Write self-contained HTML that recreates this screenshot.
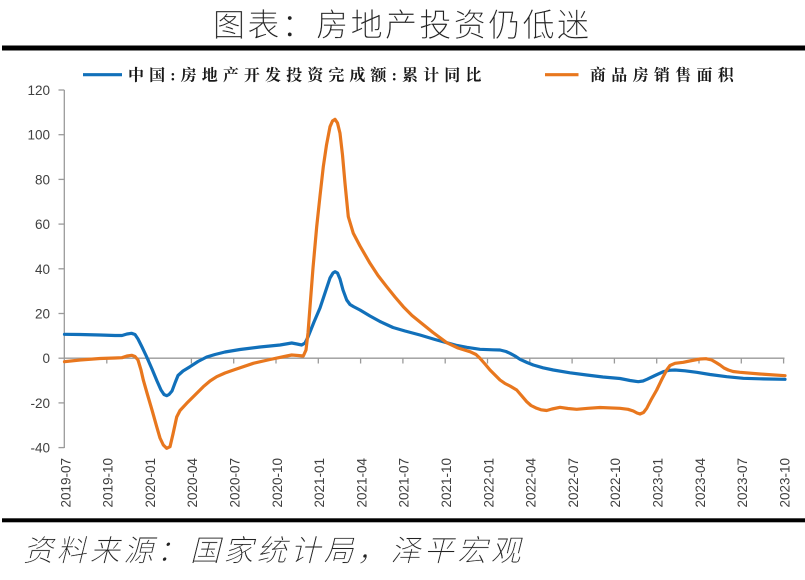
<!DOCTYPE html>
<html>
<head>
<meta charset="utf-8">
<style>
  html,body{margin:0;padding:0;background:#fff;}
  body{width:805px;height:580px;overflow:hidden;}
  svg{display:block;}
  .ax{font-family:"Liberation Sans","Noto Sans CJK SC",sans-serif;font-size:13.5px;fill:#404040;}
  .lg{font-family:"Liberation Serif","Noto Serif CJK SC",serif;font-size:16px;font-weight:bold;fill:#1a1a1a;letter-spacing:5.1px;}
</style>
</head>
<body>
<svg width="805" height="580" viewBox="0 0 805 580" xmlns="http://www.w3.org/2000/svg">
  <rect width="805" height="580" fill="#fff"/>
  <!-- title -->
  <text x="213" y="36" font-family="'Liberation Sans','Noto Sans CJK SC',sans-serif" font-size="32" font-weight="300" fill="#222" stroke="#fff" stroke-width="0.3" letter-spacing="2.4">图表：房地产投资仍低迷</text>
  <rect x="2" y="45.5" width="803" height="5" fill="#000"/>

  <!-- legend -->
  <line x1="83" y1="74.7" x2="122" y2="74.7" stroke="#1170BA" stroke-width="3.2"/>
  <text class="lg" x="128" y="80.5">中国:房地产开发投资完成额:累计同比</text>
  <line x1="545" y1="74.7" x2="578.5" y2="74.7" stroke="#E8771E" stroke-width="3.2"/>
  <text class="lg" x="590" y="80.5" style="letter-spacing:5.3px">商品房销售面积</text>

  <!-- y axis -->
  <g stroke="#9a9a9a" stroke-width="1.3" fill="none">
    <line x1="64.3" y1="90" x2="64.3" y2="448"/>
    <line x1="58.5" y1="90" x2="64.3" y2="90"/>
    <line x1="58.5" y1="134.7" x2="64.3" y2="134.7"/>
    <line x1="58.5" y1="179.4" x2="64.3" y2="179.4"/>
    <line x1="58.5" y1="224.1" x2="64.3" y2="224.1"/>
    <line x1="58.5" y1="268.8" x2="64.3" y2="268.8"/>
    <line x1="58.5" y1="313.5" x2="64.3" y2="313.5"/>
    <line x1="58.5" y1="358.2" x2="64.3" y2="358.2"/>
    <line x1="58.5" y1="402.9" x2="64.3" y2="402.9"/>
    <line x1="58.5" y1="447.6" x2="64.3" y2="447.6"/>
    <!-- x axis at 0 -->
    <line x1="64.3" y1="358.2" x2="784.5" y2="358.2"/>
    <line x1="106.8" y1="358.2" x2="106.8" y2="363.5"/>
    <line x1="149.1" y1="358.2" x2="149.1" y2="363.5"/>
    <line x1="191.4" y1="358.2" x2="191.4" y2="363.5"/>
    <line x1="233.7" y1="358.2" x2="233.7" y2="363.5"/>
    <line x1="276.0" y1="358.2" x2="276.0" y2="363.5"/>
    <line x1="318.3" y1="358.2" x2="318.3" y2="363.5"/>
    <line x1="360.6" y1="358.2" x2="360.6" y2="363.5"/>
    <line x1="402.9" y1="358.2" x2="402.9" y2="363.5"/>
    <line x1="445.2" y1="358.2" x2="445.2" y2="363.5"/>
    <line x1="487.5" y1="358.2" x2="487.5" y2="363.5"/>
    <line x1="529.8" y1="358.2" x2="529.8" y2="363.5"/>
    <line x1="572.1" y1="358.2" x2="572.1" y2="363.5"/>
    <line x1="614.4" y1="358.2" x2="614.4" y2="363.5"/>
    <line x1="656.7" y1="358.2" x2="656.7" y2="363.5"/>
    <line x1="699.0" y1="358.2" x2="699.0" y2="363.5"/>
    <line x1="741.3" y1="358.2" x2="741.3" y2="363.5"/>
    <line x1="783.6" y1="358.2" x2="783.6" y2="363.5"/>
  </g>
  <g class="ax" text-anchor="end">
    <text x="50" y="95">120</text>
    <text x="50" y="139.7">100</text>
    <text x="50" y="184.4">80</text>
    <text x="50" y="229.1">60</text>
    <text x="50" y="273.8">40</text>
    <text x="50" y="318.5">20</text>
    <text x="50" y="363.2">0</text>
    <text x="50" y="407.9">-20</text>
    <text x="50" y="452.6">-40</text>
  </g>
  <g class="ax" text-anchor="end">
    <text transform="translate(70.3,458) rotate(-90)">2019-07</text>
    <text transform="translate(112.6,458) rotate(-90)">2019-10</text>
    <text transform="translate(154.9,458) rotate(-90)">2020-01</text>
    <text transform="translate(197.2,458) rotate(-90)">2020-04</text>
    <text transform="translate(239.5,458) rotate(-90)">2020-07</text>
    <text transform="translate(281.8,458) rotate(-90)">2020-10</text>
    <text transform="translate(324.1,458) rotate(-90)">2021-01</text>
    <text transform="translate(366.4,458) rotate(-90)">2021-04</text>
    <text transform="translate(408.7,458) rotate(-90)">2021-07</text>
    <text transform="translate(451.0,458) rotate(-90)">2021-10</text>
    <text transform="translate(493.3,458) rotate(-90)">2022-01</text>
    <text transform="translate(535.6,458) rotate(-90)">2022-04</text>
    <text transform="translate(577.9,458) rotate(-90)">2022-07</text>
    <text transform="translate(620.2,458) rotate(-90)">2022-10</text>
    <text transform="translate(662.5,458) rotate(-90)">2023-01</text>
    <text transform="translate(704.8,458) rotate(-90)">2023-04</text>
    <text transform="translate(747.1,458) rotate(-90)">2023-07</text>
    <text transform="translate(789.4,458) rotate(-90)">2023-10</text>
  </g>

  <!-- blue series -->
  <polyline fill="none" stroke="#1170BA" stroke-width="3.2" stroke-linejoin="round" stroke-linecap="round"
    points="64.5,334.3 80,334.5 100,335 115,335.5 122,335.5 127,334 131.5,333.3 135,334.5 138,339 142,347 146.5,356.5 152,369 157,381 161,390 164,394.5 166.7,395.7 169,394.5 172,391 175,383 178,375.5 183,371 190,366.7 198,361.5 206.7,357 215,354.5 225,352 240,349.5 260,347 280,345 291.7,343 297,344 301.7,345 305,343 308,337 314,322 320,308 326,290 330,278 333,273 335,271.7 337.5,273 340,279 343,290 346.7,300 350,304.5 353.3,306.5 360,310 370,316 380,321.5 393,327.5 405,331 420,335 435,339.5 446.7,342.7 457,345.5 466.7,347.3 480,349.3 493,349.8 500,350 506,351.5 510,353.3 515,356 520,359.3 527,362.5 533.3,365 543,367.8 553.3,370 570,372.8 586.7,375 603,377 620,378.5 630,380.5 638.3,381.7 643,381 647,379.3 655,375.5 663.3,371.7 669,370.3 675,370 685,370.8 696.7,372.3 710,374.5 726.7,376.7 743.3,378.3 760,378.8 785,379.3"/>

  <!-- orange series -->
  <polyline fill="none" stroke="#E8771E" stroke-width="3.2" stroke-linejoin="round" stroke-linecap="round"
    points="64.5,361.7 80,360 100,358.5 115,358 122,357.7 127,356 131.7,355.3 135,356.5 138,360 141,370 143.3,380 147,393 152,410 156.7,426.7 160,438 163.3,445 166.7,448.3 170,446.7 173,434 176.7,417 180,410.5 186.7,403.3 195,395 203.3,386.7 210,381 216.7,376.7 225,373 235,369.5 253.3,363.3 270,359.5 286.7,356 291.7,355 298,355.5 303.3,356 306,350 308,333 310,306.7 313,268 316.7,226.7 320,196 323.3,166.7 326.5,145 330,126.7 332.5,121 335,119.3 337.5,123 340,133.3 342.5,155 345,183.3 348.3,216.7 353.3,233.3 360,246 370,263.3 378,275.5 386.7,286.7 395,297 403.3,306.7 412,315.5 420,322 433,332.5 446.7,342.7 458,348 470,351.7 476,354.5 480,358.3 485,364 490,370 500,380 505,383.5 510,386 516.7,390 521,395 526.7,401.7 531,405.5 536.7,408.3 541,409.8 546.7,410.5 552,409 560,407.3 568,408.5 576.7,409.3 588,408.3 600,407.5 620,408.3 628,409.3 633.3,411 637,413 640,414 643.5,412.5 646.7,408.3 651,400 656.7,390 662,379 666.7,370 670,365.5 675,363.3 683.3,362.3 692,360.5 700,359 706,358.7 711.7,360 716,362.5 720,365 724,368 728.3,370 733,371.5 740,372.3 760,374 785,375.7"/>

  <!-- bottom bar -->
  <rect x="2" y="518.3" width="803" height="4" fill="#000"/>
  <!-- source -->
  <text x="23" y="561" font-family="'Liberation Sans','Noto Sans CJK SC',sans-serif" font-size="30" font-weight="300" font-style="italic" fill="#222" stroke="#fff" stroke-width="0.4" letter-spacing="3.4">资料来源：国家统计局，泽平宏观</text>
</svg>
</body>
</html>
